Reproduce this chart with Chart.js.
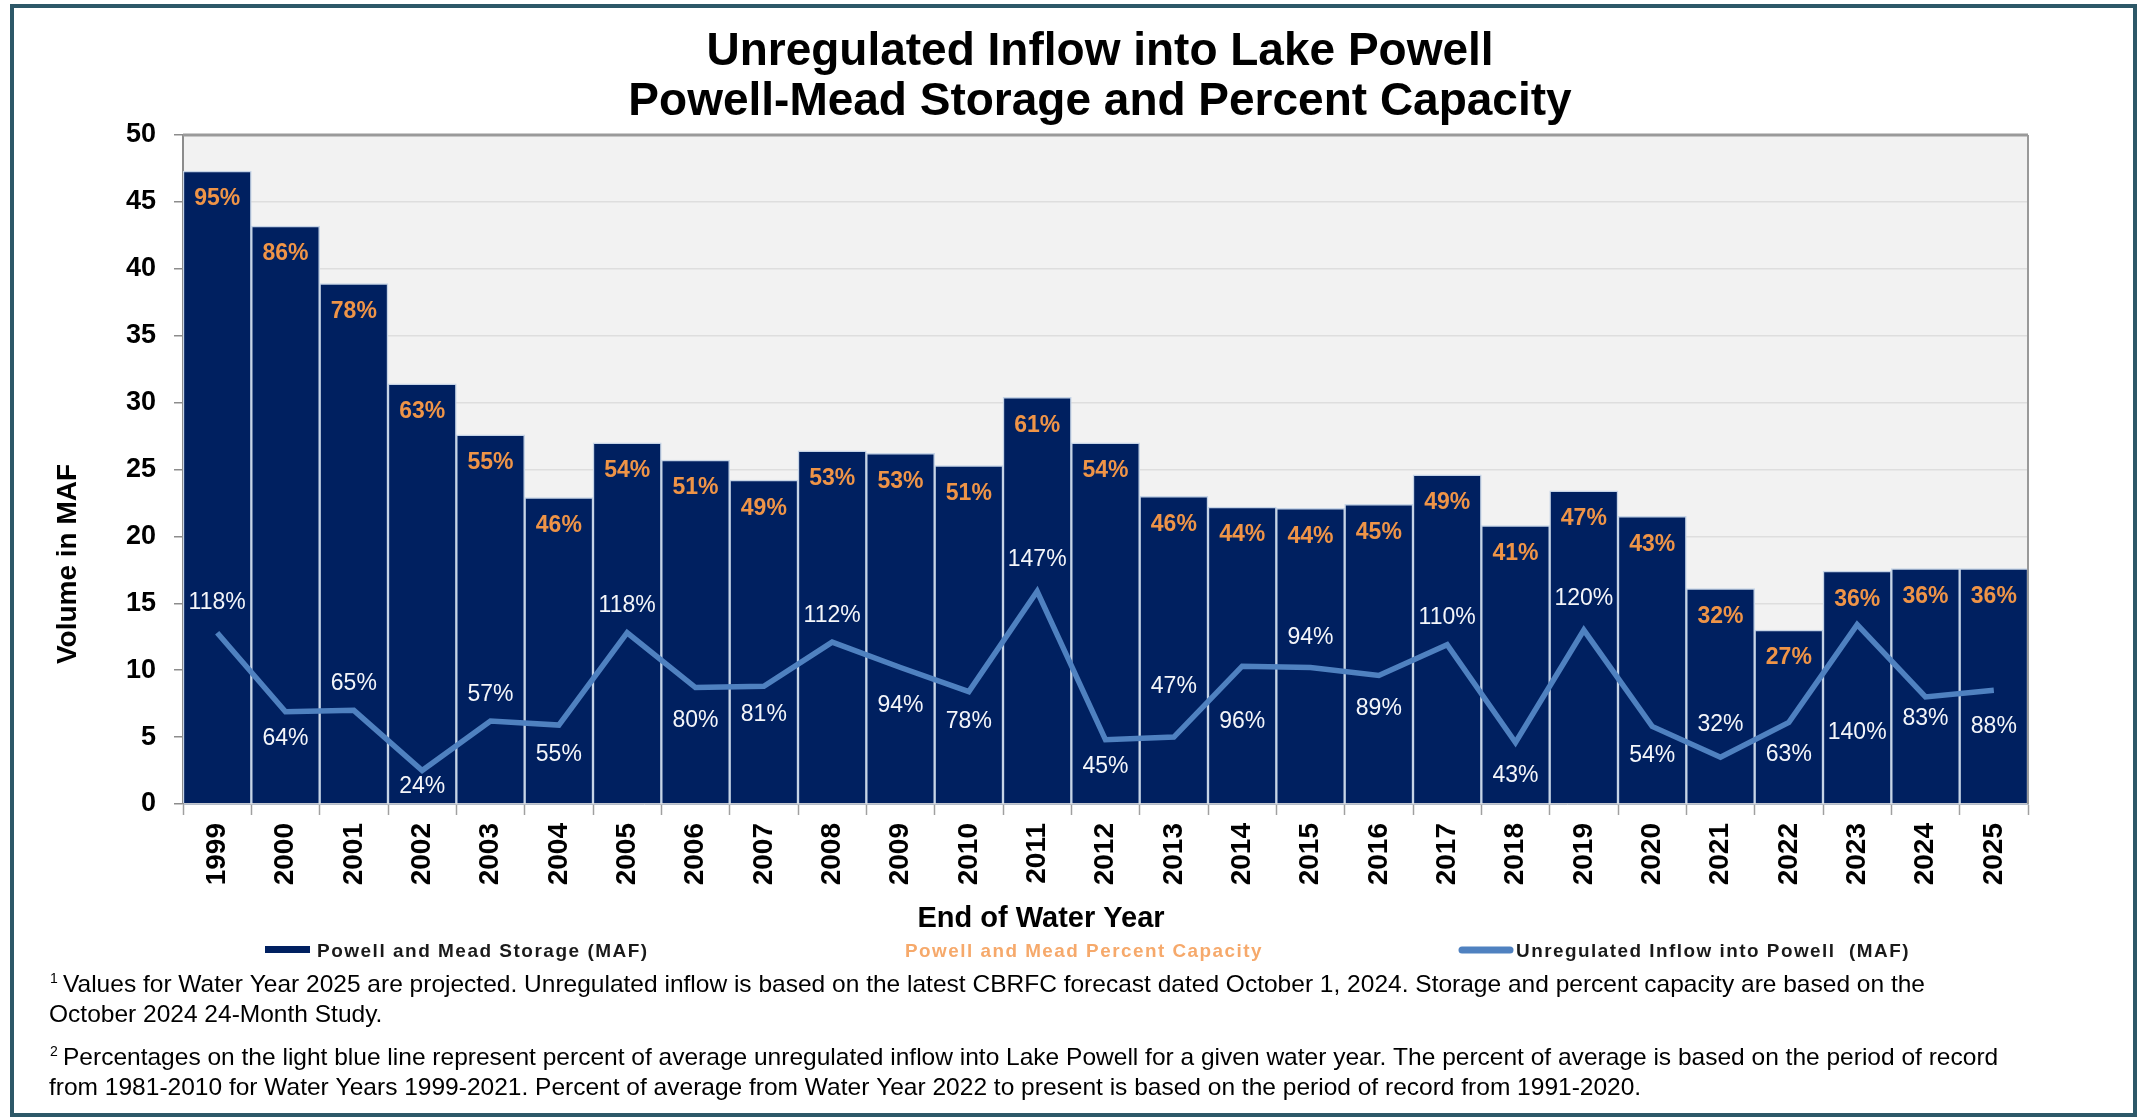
<!DOCTYPE html>
<html>
<head>
<meta charset="utf-8">
<title>Unregulated Inflow into Lake Powell</title>
<script src="https://cdn.jsdelivr.net/npm/chart.js@4.4.1/dist/chart.umd.min.js"></script>
<style>
  html, body { margin: 0; padding: 0; background: #ffffff; }
  canvas { display: block; }
</style>
</head>
<body>
<canvas id="powellChart" width="2139" height="1119"></canvas>
<script>
// data
const years = ["1999", "2000", "2001", "2002", "2003", "2004", "2005", "2006", "2007",
    "2008", "2009", "2010", "2011", "2012", "2013", "2014", "2015", "2016", "2017",
    "2018", "2019", "2020", "2021", "2022", "2023", "2024", "2025"];
const storageMaf = [47.3, 43.2, 38.9, 31.4, 27.6, 22.9, 27.0, 25.7, 24.2, 26.4, 26.2, 25.3,
    30.4, 27.0, 23.0, 22.2, 22.1, 22.4, 24.6, 20.8, 23.4, 21.5, 16.1, 13.0, 17.4, 17.6, 17.6];
const percentCapacity = [95, 86, 78, 63, 55, 46, 54, 51, 49, 53, 53, 51, 61, 54, 46, 44, 44,
    45, 49, 41, 47, 43, 32, 27, 36, 36, 36];
const inflowMaf = [12.8, 6.9, 7.0, 2.5, 6.2, 5.9, 12.8, 8.7, 8.8, 12.1, 10.2, 8.4, 15.9, 4.8,
    5.0, 10.3, 10.2, 9.6, 11.9, 4.6, 13.0, 5.8, 3.5, 6.1, 13.4, 8.0, 8.5];
const inflowPercent = [118, 64, 65, 24, 57, 55, 118, 80, 81, 112, 94, 78, 147, 45, 47, 96, 94,
    89, 110, 43, 120, 54, 32, 63, 140, 83, 88];
const yTickMin = 0, yTickMax = 50, yTickStep = 5;

const titleLines = ["Unregulated Inflow into Lake Powell", "Powell-Mead Storage and Percent Capacity"];
const footnotes = [
    { sup: "1", text: "Values for Water Year 2025 are projected. Unregulated inflow is based on the latest CBRFC forecast dated October 1, 2024. Storage and percent capacity are based on the" },
    { sup: "", text: "October 2024 24-Month Study." },
    { sup: "2", text: "Percentages on the light blue line represent percent of average unregulated inflow into Lake Powell for a given water year. The percent of average is based on the period of record" },
    { sup: "", text: "from 1981-2010 for Water Years 1999-2021. Percent of average from Water Year 2022 to present is based on the period of record from 1991-2020." }
];

// label placement for the line percentages (px from the point, negative = above)
const inflowLabelShift = [-30, 27, -27, 16, -26, 30, -27, 33, 28, -26, 38, 30, -32, 27, -50,
    55, -30, 33, -27, 33, -31, 29, -33, 32, 108, 22, 36];

const FONT = '"Liberation Sans", Arial, Helvetica, sans-serif';
const NAVY = "#002060";
const LINE_BLUE = "#4f81c0";
const ORANGE = "#ef9447";

Chart.defaults.font.family = FONT;

// plot background, frame, titles, legend, footnotes
const decorations = {
    id: "decorations",
    beforeDraw(chart) {
        const { ctx, chartArea: a } = chart;
        ctx.save();
        ctx.fillStyle = "#ffffff";
        ctx.fillRect(0, 0, chart.width, chart.height);
        ctx.fillStyle = "#f2f2f2";
        ctx.fillRect(a.left, a.top, a.right - a.left, a.bottom - a.top);
        ctx.restore();
    },
    afterDraw(chart) {
        const { ctx, chartArea: a } = chart;
        ctx.save();

        // plot top / right border
        ctx.strokeStyle = "#9a9a9a";
        ctx.lineWidth = 3;
        ctx.beginPath();
        ctx.moveTo(a.left, a.top);
        ctx.lineTo(a.right, a.top);
        ctx.stroke();
        ctx.lineWidth = 2;
        ctx.beginPath();
        ctx.moveTo(a.right, a.top);
        ctx.lineTo(a.right, a.bottom);
        ctx.stroke();

        // outer frame
        ctx.strokeStyle = "#2d5868";
        ctx.lineWidth = 4;
        ctx.strokeRect(12, 6, 2123, 1109);

        // title
        ctx.fillStyle = "#000000";
        ctx.textAlign = "center";
        ctx.textBaseline = "alphabetic";
        ctx.font = "bold 46px " + FONT;
        ctx.fillText(titleLines[0], 1100, 65);
        ctx.fillText(titleLines[1], 1100, 115);

        // axis titles
        ctx.font = "bold 29px " + FONT;
        ctx.fillText("End of Water Year", 1041, 927);
        ctx.save();
        ctx.translate(68, 564);
        ctx.rotate(-Math.PI / 2);
        ctx.font = "bold 28px " + FONT;
        ctx.textBaseline = "middle";
        ctx.fillText("Volume in MAF", 0, 0);
        ctx.restore();

        // legend
        ctx.textAlign = "left";
        ctx.font = "bold 19px " + FONT;
        ctx.letterSpacing = "1.5px";
        ctx.fillStyle = NAVY;
        ctx.fillRect(265, 946, 45, 7);
        ctx.fillStyle = "#1a1a1a";
        ctx.fillText("Powell and Mead Storage (MAF)", 317, 957, 335);
        ctx.fillStyle = "#f6a96b";
        ctx.fillText("Powell and Mead Percent Capacity", 905, 957, 358);
        ctx.strokeStyle = LINE_BLUE;
        ctx.lineWidth = 7;
        ctx.lineCap = "round";
        ctx.beginPath();
        ctx.moveTo(1462, 950);
        ctx.lineTo(1510, 950);
        ctx.stroke();
        ctx.fillStyle = "#1a1a1a";
        ctx.fillText("Unregulated Inflow into Powell  (MAF)", 1516, 957, 394);
        ctx.letterSpacing = "0px";

        // footnotes, stretched so the first line ends where it does in the original
        ctx.font = "24px " + FONT;
        const stretch = 1862 / ctx.measureText(footnotes[0].text).width;
        const baselines = [992, 1022, 1065, 1095];
        footnotes.forEach((note, i) => {
            const x0 = note.sup ? 63 : 49;
            if (note.sup) {
                ctx.font = "14px " + FONT;
                ctx.fillStyle = "#000000";
                ctx.fillText(note.sup, 50, baselines[i] - 9);
                ctx.font = "24px " + FONT;
            }
            ctx.save();
            ctx.translate(x0, baselines[i]);
            ctx.scale(stretch, 1);
            ctx.fillStyle = "#000000";
            ctx.fillText(note.text, 0, 0);
            ctx.restore();
        });
        ctx.restore();
    }
};

// percent labels on bars and on the inflow line
const valueLabels = {
    id: "valueLabels",
    afterDatasetsDraw(chart) {
        const { ctx } = chart;
        ctx.save();
        ctx.textAlign = "center";
        ctx.textBaseline = "middle";

        const bars = chart.getDatasetMeta(0).data;
        ctx.font = "bold 23px " + FONT;
        ctx.fillStyle = ORANGE;
        bars.forEach((bar, i) => {
            ctx.fillText(percentCapacity[i] + "%", bar.x, bar.y + 28);
        });

        const points = chart.getDatasetMeta(1).data;
        ctx.font = "23px " + FONT;
        ctx.fillStyle = "#f4f6fa";
        points.forEach((pt, i) => {
            ctx.fillText(inflowPercent[i] + "%", pt.x, pt.y + inflowLabelShift[i]);
        });
        ctx.restore();
    }
};

new Chart(document.getElementById("powellChart"), {
    type: "bar",
    data: {
        labels: years,
        datasets: [
            {
                type: "bar",
                label: "Powell and Mead Storage (MAF)",
                data: storageMaf,
                backgroundColor: NAVY,
                borderColor: "#c6d4e6",
                borderWidth: 1.5,
                barPercentage: 1,
                categoryPercentage: 1,
                order: 1,
            },
            {
                type: "line",
                label: "Unregulated Inflow into Powell (MAF)",
                data: inflowMaf,
                borderColor: LINE_BLUE,
                borderWidth: 5.5,
                pointRadius: 0,
                tension: 0,
                fill: false,
                order: 0,
            },
        ],
    },
    options: {
        responsive: false,
        animation: false,
        devicePixelRatio: 1,
        layout: {
            padding: { left: 0, top: 135, right: 111, bottom: 225 },
        },
        plugins: {
            legend: { display: false },
            title: { display: false },
            tooltip: { enabled: false },
        },
        scales: {
            x: {
                offset: true,
                grid: {
                    offset: true,
                    drawOnChartArea: false,
                    tickLength: 11,
                    tickColor: "#a0a0a0",
                    tickWidth: 1.5,
                },
                border: { color: "#b4bcc8", width: 1 },
                ticks: {
                    color: "#000000",
                    font: { size: 28, weight: "bold" },
                    maxRotation: 90,
                    minRotation: 90,
                    padding: 8,
                    autoSkip: false,
                },
                afterFit(scale) {
                    scale.height = 90;
                },
            },
            y: {
                min: yTickMin,
                max: yTickMax,
                ticks: {
                    stepSize: yTickStep,
                    color: "#000000",
                    font: { size: 27, weight: "bold" },
                    padding: 18,
                },
                grid: {
                    color: "#dedede",
                    lineWidth: 1.5,
                    tickLength: 9,
                    tickColor: "#8c8c8c",
                    tickWidth: 1.5,
                },
                border: { color: "#8c8c8c", width: 2 },
                afterFit(scale) {
                    scale.width = 183;
                },
            },
        },
    },
    plugins: [decorations, valueLabels],
});
</script>
</body>
</html>
